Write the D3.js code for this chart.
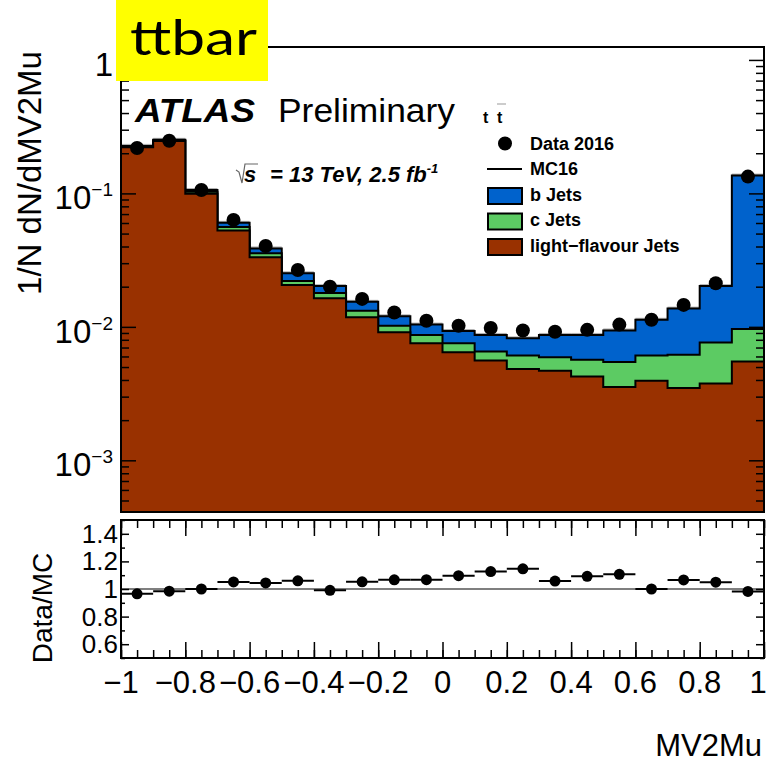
<!DOCTYPE html>
<html>
<head>
<meta charset="utf-8">
<script src="https://cdn.jsdelivr.net/npm/d3@7"></script>
<style>
  body { margin: 0; background: #fff; }
  text { font-family: "Liberation Sans", Arial, sans-serif; }
</style>
</head>
<body>
<div id="container"></div>
<script>
/* DATA */
// lower edges of the 20 MV2Mu bins (width 0.1)
const binLow = [-1, -0.9, -0.8, -0.7, -0.6, -0.5, -0.4, -0.3, -0.2, -0.1,
                0, 0.1, 0.2, 0.3, 0.4, 0.5, 0.6, 0.7, 0.8, 0.9]
const binWidth = 0.1

// stacked MC components, 1/N dN/dMV2Mu
const lightJets = [0.222, 0.247, 0.0995, 0.0527, 0.0333, 0.0206, 0.0164, 0.0118, 0.0091, 0.00755,
                   0.00646, 0.00559, 0.00484, 0.00468, 0.00424, 0.00354, 0.00394, 0.00348, 0.00377, 0.00551]
const cJets = [0.002, 0.002, 0.0035, 0.0034, 0.0023, 0.0015, 0.0015, 0.0014, 0.0011, 0.00115,
               0.00109, 0.00095, 0.00125, 0.00123, 0.00143, 0.00191, 0.00215, 0.00269, 0.00386, 0.00412]
const bJets = [0.003, 0.003, 0.003, 0.0041, 0.0031, 0.0031, 0.0023, 0.0022, 0.0018, 0.0017,
               0.00175, 0.00216, 0.00211, 0.00279, 0.00303, 0.00395, 0.00521, 0.00753, 0.01257, 0.1264]
// Data 2016
const dataVals = [0.219, 0.248, 0.106, 0.0633, 0.0404, 0.0267, 0.0200, 0.0162, 0.0128, 0.0111,
                  0.0102, 0.0098, 0.0094, 0.0092, 0.0095, 0.0104, 0.0113, 0.0146, 0.0212, 0.1336]

const yMainTicks = [0.001, 0.01, 0.1, 1]
const yMainExp = ["\u22123", "\u22122", "\u22121", ""]
const xTicks = [-1, -0.8, -0.6, -0.4, -0.2, 0, 0.2, 0.4, 0.6, 0.8, 1]
const yRatioTicks = [0.6, 0.8, 1, 1.2, 1.4]
const yRatioMinor = [0.5, 0.7, 0.9, 1.1, 1.3, 1.5]

const legendItems = [
  { label: "b Jets", color: "#0062cc" },
  { label: "c Jets", color: "#5ccb63" },
  { label: "light\u2212flavour Jets", color: "#993100" }
]

/* LAYOUT */
const width = 769, height = 764
const main = { left: 121, right: 764, top: 47, bottom: 512 }
const rat = { top: 520, bottom: 658 }

/* SCALES */
const x = d3.scaleLinear().domain([-1, 1]).range([main.left, main.right])
const y = d3.scaleLog().domain([4.1e-4, 1.25]).range([main.bottom, main.top])
const yR = d3.scaleLinear().domain([0.5, 1.5]).range([rat.bottom, rat.top])

// stack tops
const cTop = lightJets.map((d, i) => d + cJets[i])
const mcTotal = cTop.map((d, i) => d + bJets[i])
const ratio = dataVals.map((d, i) => d / mcTotal[i])

const svg = d3.select("#container")
  .append("svg")
  .attr("width", width)
  .attr("height", height)

svg.append("clipPath").attr("id", "clipMain")
  .append("rect")
  .attr("x", main.left).attr("y", main.top)
  .attr("width", main.right - main.left).attr("height", main.bottom - main.top)

const plot = svg.append("g").attr("clip-path", "url(#clipMain)")

function stepArea(vals) {
  const pts = binLow.map((b, i) => [b, vals[i]]).concat([[1, vals[vals.length - 1]]])
  return d3.area()
    .curve(d3.curveStepAfter)
    .x(d => x(d[0]))
    .y0(main.bottom + 5)
    .y1(d => y(d[1]))(pts)
}

// stacked histograms, drawn top layer first
const layers = [
  { vals: mcTotal, color: legendItems[0].color },
  { vals: cTop, color: legendItems[1].color },
  { vals: lightJets, color: legendItems[2].color }
]

// small MC uncertainty band above total
plot.selectAll(".band")
  .data(mcTotal)
  .join("rect")
  .attr("class", "band")
  .attr("x", (d, i) => x(binLow[i]))
  .attr("width", x(binWidth) - x(0))
  .attr("y", d => y(d * 1.035))
  .attr("height", d => y(d) - y(d * 1.035))
  .attr("fill", "#b0b0b0")

plot.selectAll(".layer")
  .data(layers)
  .join("path")
  .attr("class", "layer")
  .attr("d", d => stepArea(d.vals))
  .attr("fill", d => d.color)
  .attr("stroke", "#000")
  .attr("stroke-width", 2)

// data points
plot.selectAll(".dataPt")
  .data(dataVals)
  .join("circle")
  .attr("class", "dataPt")
  .attr("cx", (d, i) => x(binLow[i] + binWidth / 2))
  .attr("cy", d => y(d))
  .attr("r", 7)
  .attr("fill", "#000")

/* MAIN AXES */
const yMinor = []
for (let e = -4; e <= 0; e++) {
  for (let m = 2; m <= 9; m++) {
    const v = m * Math.pow(10, e)
    if (v > 4.1e-4 && v < 1.25) yMinor.push(v)
  }
}

function tickAxis(axis, tx, ty) {
  const g = svg.append("g").attr("transform", `translate(${tx},${ty})`).call(axis)
  g.select(".domain").remove()
  g.selectAll("line").attr("stroke", "#000").attr("stroke-width", 1.5)
  return g
}

tickAxis(d3.axisLeft(y).tickValues(yMainTicks).tickSize(-15).tickFormat(""), main.left, 0)
tickAxis(d3.axisLeft(y).tickValues(yMinor).tickSize(-8).tickFormat(""), main.left, 0)
tickAxis(d3.axisRight(y).tickValues(yMainTicks).tickSize(-15).tickFormat(""), main.right, 0)
tickAxis(d3.axisRight(y).tickValues(yMinor).tickSize(-8).tickFormat(""), main.right, 0)

svg.append("rect")
  .attr("x", main.left).attr("y", main.top)
  .attr("width", main.right - main.left).attr("height", main.bottom - main.top)
  .attr("fill", "none").attr("stroke", "#000").attr("stroke-width", 2)

// y tick labels 10^n
const yLab = svg.selectAll(".yLab")
  .data(yMainTicks)
  .join("text")
  .attr("class", "yLab")
  .attr("x", 113)
  .attr("y", d => y(d) + 16)
  .attr("text-anchor", "end")
  .style("font-size", "33px")
yLab.append("tspan").text((d, i) => yMainExp[i] === "" ? "1" : "10")
yLab.filter((d, i) => yMainExp[i] !== "")
  .append("tspan")
  .attr("dy", -13)
  .style("font-size", "19px")
  .text((d, i) => yMainExp[yMainTicks.indexOf(d)])

svg.append("text")
  .attr("transform", "translate(41,173) rotate(-90)")
  .attr("text-anchor", "middle")
  .style("font-size", "33px")
  .text("1/N dN/dMV2Mu")

/* RATIO PANEL */
svg.append("line")
  .attr("x1", main.left).attr("x2", main.right)
  .attr("y1", yR(1)).attr("y2", yR(1))
  .attr("stroke", "#555").attr("stroke-width", 1.5)

svg.selectAll(".ratioBar")
  .data(ratio)
  .join("line")
  .attr("class", "ratioBar")
  .attr("x1", (d, i) => x(binLow[i]))
  .attr("x2", (d, i) => x(binLow[i] + binWidth))
  .attr("y1", d => yR(d))
  .attr("y2", d => yR(d))
  .attr("stroke", "#000").attr("stroke-width", 2)

svg.selectAll(".ratioPt")
  .data(ratio)
  .join("circle")
  .attr("class", "ratioPt")
  .attr("cx", (d, i) => x(binLow[i] + binWidth / 2))
  .attr("cy", d => yR(d))
  .attr("r", 5.5)
  .attr("fill", "#000")

const xMinor = d3.range(-20, 21).map(i => i * 0.05)
tickAxis(d3.axisBottom(x).tickValues(xTicks).tickSize(-16).tickFormat(""), 0, rat.bottom)
tickAxis(d3.axisBottom(x).tickValues(xMinor).tickSize(-8).tickFormat(""), 0, rat.bottom)
tickAxis(d3.axisTop(x).tickValues(xTicks).tickSize(-16).tickFormat(""), 0, rat.top)
tickAxis(d3.axisTop(x).tickValues(xMinor).tickSize(-8).tickFormat(""), 0, rat.top)
tickAxis(d3.axisLeft(yR).tickValues(yRatioTicks).tickSize(-8).tickFormat(""), main.left, 0)
tickAxis(d3.axisLeft(yR).tickValues(yRatioMinor).tickSize(-4).tickFormat(""), main.left, 0)
tickAxis(d3.axisRight(yR).tickValues(yRatioTicks).tickSize(-8).tickFormat(""), main.right, 0)
tickAxis(d3.axisRight(yR).tickValues(yRatioMinor).tickSize(-4).tickFormat(""), main.right, 0)

svg.append("rect")
  .attr("x", main.left).attr("y", rat.top)
  .attr("width", main.right - main.left).attr("height", rat.bottom - rat.top)
  .attr("fill", "none").attr("stroke", "#000").attr("stroke-width", 2)

// x tick labels; the last one is kept inside the window
svg.selectAll(".xLab")
  .data(xTicks)
  .join("text")
  .attr("class", "xLab")
  .attr("x", d => Math.min(x(d), 758))
  .attr("y", 693)
  .attr("text-anchor", "middle")
  .style("font-size", "31px")
  .text(d => d3.format("~g")(d))

svg.selectAll(".rLab")
  .data(yRatioTicks)
  .join("text")
  .attr("class", "rLab")
  .attr("x", 118)
  .attr("y", d => yR(d) + 9)
  .attr("text-anchor", "end")
  .style("font-size", "26px")
  .text(d => d3.format("~g")(d))

svg.append("text")
  .attr("transform", "translate(52,608) rotate(-90)")
  .attr("text-anchor", "middle")
  .style("font-size", "28px")
  .text("Data/MC")

svg.append("text")
  .attr("x", 762).attr("y", 756)
  .attr("text-anchor", "end")
  .style("font-size", "31px")
  .text("MV2Mu")

/* LABELS */
svg.append("text")
  .attr("x", 135).attr("y", 122)
  .attr("textLength", 120).attr("lengthAdjust", "spacingAndGlyphs")
  .style("font-size", "34px").style("font-weight", "bold").style("font-style", "italic")
  .text("ATLAS")
svg.append("text")
  .attr("x", 278).attr("y", 122)
  .attr("textLength", 177).attr("lengthAdjust", "spacingAndGlyphs")
  .style("font-size", "34px")
  .text("Preliminary")

// t tbar
svg.append("text").attr("x", 483).attr("y", 123)
  .style("font-size", "16px").style("font-weight", "bold").text("t")
svg.append("text").attr("x", 497).attr("y", 123)
  .style("font-size", "16px").style("font-weight", "bold").text("t")
svg.append("line").attr("x1", 497).attr("x2", 506).attr("y1", 104).attr("y2", 104)
  .attr("stroke", "#bbb").attr("stroke-width", 1.5)

// sqrt(s) = 13 TeV
svg.append("path")
  .attr("d", "M236,170 L239,172 L242,183 L245,164 L258,164")
  .attr("fill", "none").attr("stroke", "#666").attr("stroke-width", 1.2)
svg.append("text").attr("x", 244).attr("y", 182)
  .style("font-size", "22px").style("font-weight", "bold").style("font-style", "italic")
  .text("s")
const lumi = svg.append("text").attr("x", 270).attr("y", 182)
  .style("font-size", "22px").style("font-weight", "bold").style("font-style", "italic")
lumi.append("tspan").text("= 13 TeV, 2.5 fb")
lumi.append("tspan").attr("dy", -9).style("font-size", "13px").text("-1")

// legend
svg.append("circle").attr("cx", 505).attr("cy", 143.5).attr("r", 7).attr("fill", "#000")
svg.append("line").attr("x1", 487).attr("x2", 522).attr("y1", 169).attr("y2", 169)
  .attr("stroke", "#000").attr("stroke-width", 2)
svg.selectAll(".legBox")
  .data(legendItems)
  .join("rect")
  .attr("class", "legBox")
  .attr("x", 488)
  .attr("y", (_, i) => 188 + i * 25.5)
  .attr("width", 34).attr("height", 16)
  .attr("fill", d => d.color)
  .attr("stroke", "#000").attr("stroke-width", 2)

const legText = ["Data 2016", "MC16"].concat(legendItems.map(d => d.label))
svg.selectAll(".legText")
  .data(legText)
  .join("text")
  .attr("class", "legText")
  .attr("x", 530)
  .attr("y", (_, i) => 149.5 + i * 25.5)
  .style("font-size", "18px").style("font-weight", "bold")
  .text(d => d)

// yellow tag
svg.append("rect")
  .attr("x", 116).attr("y", 0).attr("width", 152).attr("height", 81)
  .attr("fill", "#ffff00")
svg.append("text")
  .attr("x", 130).attr("y", 55)
  .attr("textLength", 127).attr("lengthAdjust", "spacingAndGlyphs")
  .style("font-family", "Lato, 'Open Sans', sans-serif")
  .style("font-size", "48px")
  .text("ttbar")
</script>
</body>
</html>
